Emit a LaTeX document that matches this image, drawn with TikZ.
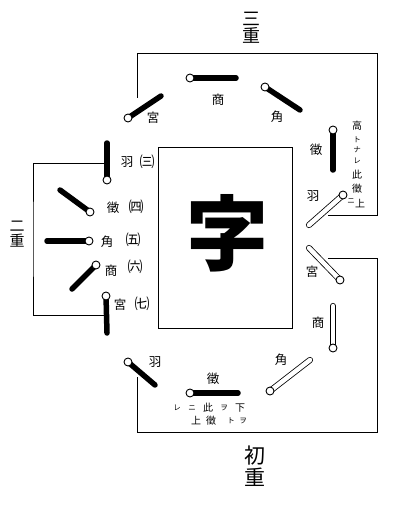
\documentclass[tikz,border=0pt]{standalone}
\usepackage{fontspec}
\newfontfamily\jp{Noto Sans CJK JP}

\begin{document}
\begin{tikzpicture}[x=1pt, y=-1pt,
    peg/.style={line width=5.5pt, line cap=round},
    hollowpeg/.style={draw=black, double=white, double distance=4.5pt, line width=0.8pt, line cap=round},
    pegend/.style={circle, draw, fill=white, line width=0.9pt, inner sep=0pt, minimum size=8pt},
    lab/.style={font=\jp\fontsize{12.5}{12.5}\selectfont, inner sep=0pt},
    num/.style={font=\jp\fontsize{15}{15}\selectfont, inner sep=0pt},
    kana/.style={font=\jp\fontsize{7.5}{7.5}\selectfont, inner sep=0pt},
    head/.style={font=\jp\fontsize{18}{18}\selectfont, inner sep=0pt},
    bracket/.style={line width=0.8pt}]
    \useasboundingbox (0,0) rectangle (412,508);

    % middle box
    \draw [line width=0.8pt] (158,147) rectangle (292,328);
    \node (zi) at (227,233) [font=\jp\bfseries\fontsize{82}{82}\selectfont, inner sep=0pt] {字};

    % brackets
    \coordinate (sanA) at (137,98);
    \coordinate (sanB) at (328,215);
    \draw [bracket] (sanA) |- (377,53) |- (sanB);
    \coordinate (erA) at (107,163);
    \coordinate (erB) at (107,315);
    \draw [bracket] (erA) -| (33,239) |- (erB);
    \coordinate (chuA) at (137,377);
    \coordinate (chuB) at (328,258);
    \draw [bracket] (chuA) |- (377,432) |- (chuB);
    \node (san) at (251,28) [head, align=center] {三\\[-1pt]重};
    \node (er) at (17,234) [head, font=\jp\fontsize{15}{15}\selectfont, align=center] {二\\[0pt]重};
    \node (chu) at (255,466) [head, font=\jp\fontsize{21}{21}\selectfont, align=center] {初\\[1pt]重};

    % pegs: circle end and far end
    \coordinate (p1) at (128,118);  \coordinate (q1) at (161,96);
    \coordinate (p2) at (190,78);   \coordinate (q2) at (236,78);
    \coordinate (p3) at (265,87);   \coordinate (q3) at (300,110);
    \coordinate (p4) at (333,130);  \coordinate (q4) at (333,170);
    \coordinate (p5) at (343,195);  \coordinate (q5) at (309,225);
    \coordinate (p6) at (340,280);  \coordinate (q6) at (309,248);
    \coordinate (p7) at (333,348);  \coordinate (q7) at (333,306);
    \coordinate (p8) at (270,391);  \coordinate (q8) at (310,360);
    \coordinate (p9) at (190,393);  \coordinate (q9) at (238,393);
    \coordinate (p10) at (128,362); \coordinate (q10) at (155,385);
    \coordinate (p11) at (106,296); \coordinate (q11) at (107,333);
    \coordinate (p12) at (96,265);  \coordinate (q12) at (72,289);
    \coordinate (p13) at (89,241);  \coordinate (q13) at (47,241);
    \coordinate (p14) at (90,212);  \coordinate (q14) at (60,190);
    \coordinate (p15) at (107,180); \coordinate (q15) at (107,143);

    \foreach \i in {1,2,3,4,9,10,11,12,13,14,15}
        \draw [peg] (p\i) -- (q\i);
    \foreach \i in {5,6,7,8}
        \draw [hollowpeg] (p\i) -- (q\i);
    \foreach \i in {1,...,15}
        \node (k\i) at (p\i) [pegend] {};

    % names of the strings
    \node (l1) at (153,118) [lab] {宮};
    \node (l2) at (218,100) [lab] {商};
    \node (l3) at (277,117) [lab] {角};
    \node (l4) at (316,150) [lab] {徵};
    \node (l5) at (313,196) [lab] {羽};
    \node (l6) at (312,272) [lab] {宮};
    \node (l7) at (318,323) [lab] {商};
    \node (l8) at (281,360) [lab] {角};
    \node (l9) at (213,379) [lab] {徵};
    \node (l10) at (155,362) [lab] {羽};
    \node (l11) at (120,305) [lab] {宮};
    \node (l12) at (111,271) [lab] {商};
    \node (l13) at (107,242) [lab] {角};
    \node (l14) at (113,208) [lab] {徵};
    \node (l15) at (127,162) [lab] {羽};
    \node (n15) at (147,162) [num] {㈢};
    \node (n14) at (136,207) [num] {㈣};
    \node (n13) at (133,240) [num] {㈤};
    \node (n12) at (135,267) [num] {㈥};
    \node (n11) at (142,304) [num] {㈦};

    % notes
    \node (r1) at (357,126) [lab, font=\jp\fontsize{10}{10}\selectfont] {高};
    \node (r2) at (357,140) [kana] {ト};
    \node (r3) at (357,150) [kana] {ナ};
    \node (r4) at (357,161) [kana] {レ};
    \node (r5) at (357,175) [lab, font=\jp\fontsize{10}{10}\selectfont] {此};
    \node (r6) at (357,189) [lab, font=\jp\fontsize{10}{10}\selectfont] {徵};
    \node (r7) at (351,201) [kana] {ニ};
    \node (r8) at (360,204) [lab, font=\jp\fontsize{10}{10}\selectfont] {上};

    \node (b1) at (177,408) [kana] {レ};
    \node (b2) at (192,408) [kana] {ニ};
    \node (b3) at (208,408) [lab, font=\jp\fontsize{10}{10}\selectfont] {此};
    \node (b4) at (224,408) [kana] {ヲ};
    \node (b5) at (240,408) [lab, font=\jp\fontsize{10}{10}\selectfont] {下};
    \node (b6) at (196,421) [lab, font=\jp\fontsize{10}{10}\selectfont] {上};
    \node (b7) at (211,421) [lab, font=\jp\fontsize{10}{10}\selectfont] {徵};
    \node (b8) at (231,421) [kana] {ト};
    \node (b9) at (243,421) [kana] {ヲ};
\end{tikzpicture}
\end{document}
